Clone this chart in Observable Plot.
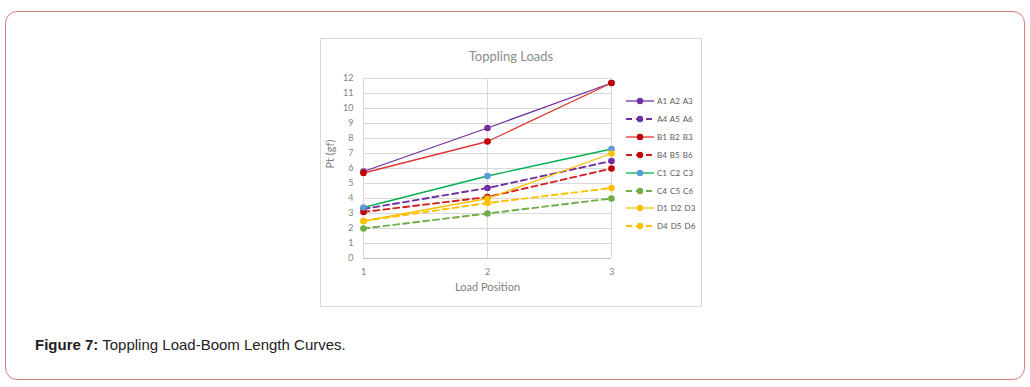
<!DOCTYPE html>
<html>
<head>
<meta charset="utf-8">
<script src="https://cdn.jsdelivr.net/npm/d3@7"></script>
<script src="https://cdn.jsdelivr.net/npm/@observablehq/plot@0.6"></script>
<style>
  html, body { margin: 0; padding: 0; background: #fff; }
  body { width: 1030px; height: 387px; position: relative; overflow: hidden; }
  #frame {
    position: absolute; left: 5px; top: 11px; width: 1018px; height: 367px;
    border: 1px solid #e07b7b; border-radius: 12px; box-sizing: content-box;
  }
  #chartbox {
    position: absolute; left: 320px; top: 38px; width: 380px; height: 267px;
    border: 1px solid #d9d9d9; background: #fff;
  }
  #chart { position: absolute; left: 0; top: 0; }
  #title {
    position: absolute; left: 0; top: 9px; width: 380px; text-align: center;
    font-family: Lato, "Open Sans", sans-serif; font-size: 13px; color: #8c8c8c;
  }
  #legend { position: absolute; left: 304px; top: 56px; font-family: Lato, sans-serif; }
  .item { position: absolute; left: 0; height: 12px; white-space: nowrap; }
  .item svg { position: absolute; left: 0; top: 0; }
  .item span { position: absolute; left: 32px; top: 0px; font-size: 8px; line-height: 12px; color: #595959; word-spacing: 1px; }
  #caption {
    position: absolute; left: 35px; top: 336px;
    font-family: Arial, "Liberation Sans", sans-serif; font-size: 15px; color: #222;
  }
</style>
</head>
<body>
<div id="frame"></div>
<div id="chartbox">
  <div id="title">Toppling Loads</div>
  <div id="chart"></div>
  <div id="legend"></div>
</div>
<div id="caption"><b>Figure 7:</b> Toppling Load-Boom Length Curves.</div>
<script>
// Load positions along the boom
const positions = [1, 2, 3];

// Series names (legend order)
const seriesNames = ["A1 A2 A3", "A4 A5 A6", "B1 B2 B3", "B4 B5 B6",
                     "C1 C2 C3", "C4 C5 C6", "D1 D2 D3", "D4 D5 D6"];

// Toppling load Pt (gf) at positions 1, 2, 3
const a123 = [5.8, 8.7, 11.7];
const a456 = [3.3, 4.7, 6.5];
const b123 = [5.7, 7.8, 11.7];
const b456 = [3.1, 4.1, 6.0];
const c123 = [3.4, 5.5, 7.3];
const c456 = [2.0, 3.0, 4.0];
const d123 = [2.5, 4.0, 7.0];
const d456 = [2.5, 3.7, 4.7];
const seriesValues = [a123, a456, b123, b456, c123, c456, d123, d456];

// Styling per series
const lineColors = ["#7030A0", "#7030A0", "#E03535", "#D42020", "#00B050", "#70AD47", "#FFC000", "#FFC000"];
const dotColors  = ["#7030A0", "#7030A0", "#C00000", "#C00000", "#5B9BD5", "#70AD47", "#FFC000", "#FFC000"];
const dashed     = [false, true, false, true, false, true, false, true];

const yTicks = d3.range(0, 13);
const xLabel = "Load Position";
const yLabel = "Pt (gf)";

const rows = seriesNames.flatMap((name, i) =>
  positions.map((p, j) => ({series: name, pos: p, pt: seriesValues[i][j], idx: i})));

const marks = [
  Plot.gridY(yTicks.filter(d => d > 0), {stroke: "#d9d9d9", strokeOpacity: 1}),
  Plot.gridX(positions, {stroke: "#d9d9d9", strokeOpacity: 1}),
  Plot.ruleY([0], {stroke: "#bfbfbf"})
];
seriesNames.forEach((name, i) => {
  const data = rows.filter(r => r.idx === i);
  marks.push(Plot.line(data, {
    x: "pos", y: "pt", stroke: lineColors[i],
    strokeWidth: dashed[i] ? 1.9 : 1.3,
    strokeDasharray: dashed[i] ? "6,4" : null
  }));
});
seriesNames.forEach((name, i) => {
  const data = rows.filter(r => r.idx === i);
  marks.push(Plot.dot(data, {x: "pos", y: "pt", r: 3.3, fill: dotColors[i], stroke: "none"}));
});
// axis titles, a little larger than the tick labels
marks.push(Plot.text([xLabel], {text: d => d, frameAnchor: "bottom", dy: 32, fontSize: 11, fill: "#7f7f7f"}));
marks.push(Plot.text([yLabel], {text: d => d, frameAnchor: "left", dx: -33, rotate: -90, fontSize: 11, fill: "#7f7f7f"}));

const chart = Plot.plot({
  width: 380,
  height: 267,
  marginLeft: 42,
  marginRight: 90,
  marginTop: 39,
  marginBottom: 48,
  style: {fontFamily: "Lato, sans-serif", fontSize: "9px", color: "#7f7f7f", background: "transparent"},
  x: {domain: [1, 3], ticks: positions, tickFormat: d3.format("d"), tickSize: 0, tickPadding: 10, label: null},
  y: {domain: [0, 12], ticks: yTicks, tickSize: 0, tickPadding: 10, label: null},
  marks
});
document.getElementById("chart").appendChild(chart);

// Legend entries built from the same series styling
const legend = d3.select("#legend");
seriesNames.forEach((name, i) => {
  const item = legend.append("div").attr("class", "item").style("top", `${i * 17.9}px`);
  const svg = item.append("svg").attr("width", 30).attr("height", 12);
  svg.append("line").attr("x1", 1).attr("x2", 29).attr("y1", 6).attr("y2", 6)
    .attr("stroke", lineColors[i]).attr("stroke-width", dashed[i] ? 1.9 : 1.3)
    .attr("stroke-dasharray", dashed[i] ? "6,4" : null);
  svg.append("circle").attr("cx", 15).attr("cy", 6).attr("r", 3.2).attr("fill", dotColors[i]);
  item.append("span").text(name);
});
</script>
</body>
</html>
